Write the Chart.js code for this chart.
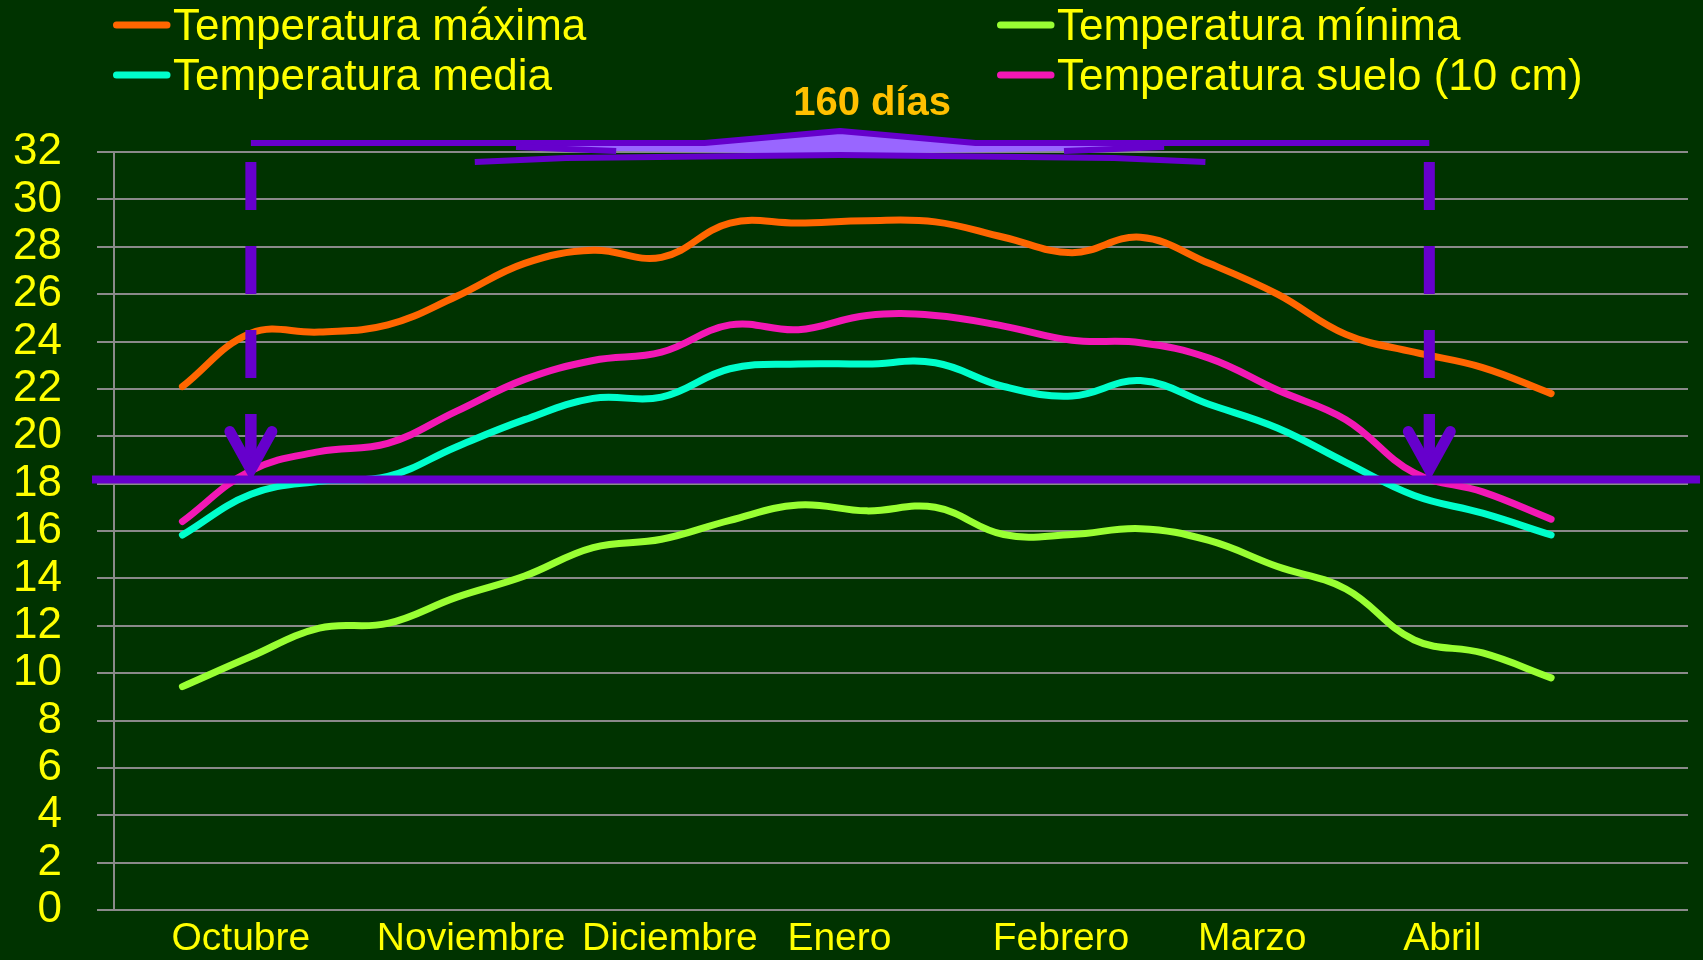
<!DOCTYPE html>
<html>
<head>
<meta charset="utf-8">
<script src="https://cdn.jsdelivr.net/npm/chart.js@4.4.0/dist/chart.umd.min.js"></script>
<style>
  html, body { margin: 0; padding: 0; background: #003300; }
  #wrap { width: 1703px; height: 960px; position: relative; }
</style>
</head>
<body>
<div id="wrap"><canvas id="temps"></canvas></div>
<script>
// one value every 10 days, from 1st decade of October to last decade of April
const decades = [0, 1, 2, 3, 4, 5, 6, 7, 8, 9, 10, 11, 12, 13, 14, 15, 16, 17, 18, 19, 20]
const months = ['Octubre', 'Noviembre', 'Diciembre', 'Enero', 'Febrero', 'Marzo', 'Abril']
const monthStart = [0, 3, 6, 9, 12, 15, 18]

const tMax = [22.1, 24.35, 24.4, 24.7, 25.9, 27.3, 27.85, 27.55, 29.0, 29.0, 29.1, 29.05, 28.4, 27.75, 28.4, 27.3, 26.0, 24.3, 23.55, 22.9, 21.8]
const tMin = [9.43, 10.7, 11.9, 12.1, 13.2, 14.1, 15.3, 15.65, 16.45, 17.1, 16.85, 17.0, 15.85, 15.85, 16.1, 15.6, 14.5, 13.55, 11.4, 10.85, 9.8]
const tMed = [15.83, 17.55, 18.1, 18.3, 19.55, 20.7, 21.6, 21.65, 22.85, 23.05, 23.05, 23.1, 22.1, 21.7, 22.35, 21.35, 20.35, 18.9, 17.5, 16.75, 15.83]
const tSuelo = [16.4, 18.55, 19.35, 19.7, 21.05, 22.4, 23.2, 23.55, 24.7, 24.5, 25.1, 25.1, 24.65, 24.05, 23.95, 23.3, 21.95, 20.7, 18.45, 17.65, 16.5]

// 18 ºC threshold and the period above it
const threshold = 18.17
const periodFrom = 1
const periodTo = 18.22
const periodLabel = '160 días'

const FONT = "'Liberation Sans', Arial, sans-serif"
const YELLOW = '#FFFF00'
const PURPLE = '#6600CC'

const toPoints = (vals) => decades.map((d, i) => ({ x: d, y: vals[i] }))

// legend in two columns, like the original slide
const legendPlugin = {
    id: 'twoColLegend',
    afterDraw(chart) {
        const ctx = chart.ctx
        const cols = [113, 997]
        const rows = [25, 75]
        ctx.save()
        chart.data.datasets.forEach((ds, i) => {
            const lx = cols[i % 2]
            const ly = rows[Math.floor(i / 2)]
            ctx.strokeStyle = ds.borderColor
            ctx.lineWidth = 7
            ctx.lineCap = 'round'
            ctx.beginPath()
            ctx.moveTo(lx + 3.5, ly)
            ctx.lineTo(lx + 54, ly)
            ctx.stroke()
            ctx.fillStyle = YELLOW
            ctx.font = '44px ' + FONT
            ctx.textBaseline = 'middle'
            ctx.textAlign = 'left'
            ctx.fillText(ds.label, lx + 60, ly + 3)
        })
        ctx.restore()
    }
}

const periodPlugin = {
    id: 'period',
    afterDraw(chart) {
        const { ctx, scales: { x, y } } = chart
        const lineY = y.getPixelForValue(threshold)
        const top = y.getPixelForValue(32)
        ctx.save()

        // threshold line
        ctx.strokeStyle = PURPLE
        ctx.lineWidth = 8
        ctx.beginPath()
        ctx.moveTo(x.left - 22, lineY)
        ctx.lineTo(chart.width - 3, lineY)
        ctx.stroke()

        // dashed arrows
        const tip = lineY - 12
        ;[periodFrom, periodTo].forEach(v => {
            const ax = x.getPixelForValue(v)
            ctx.lineWidth = 11
            ctx.lineCap = 'butt'
            ctx.setLineDash([48, 36])
            ctx.beginPath()
            ctx.moveTo(ax, top + 10)
            ctx.lineTo(ax, tip)
            ctx.stroke()
            ctx.setLineDash([])
            ctx.beginPath()
            ctx.moveTo(ax, top + 262)
            ctx.lineTo(ax, tip)
            ctx.stroke()
            ctx.lineCap = 'round'
            ctx.lineJoin = 'miter'
            ctx.beginPath()
            ctx.moveTo(ax - 21, tip - 36)
            ctx.lineTo(ax, tip + 2)
            ctx.lineTo(ax + 21, tip - 36)
            ctx.stroke()
        })

        // flat brace over the period
        const L = x.getPixelForValue(periodFrom)
        const R = x.getPixelForValue(periodTo)
        const C = (L + R) / 2
        const h = (R - L) / 2
        ctx.fillStyle = '#9966FF'
        ctx.beginPath()
        ctx.moveTo(C - 0.53 * h, top - 8)
        ctx.lineTo(C - 0.23 * h, top - 8)
        ctx.lineTo(C, top - 19)
        ctx.lineTo(C + 0.23 * h, top - 8)
        ctx.lineTo(C + 0.53 * h, top - 8)
        ctx.lineTo(C + 0.38 * h, top - 1)
        ctx.lineTo(C, top + 2)
        ctx.lineTo(C - 0.38 * h, top - 1)
        ctx.closePath()
        ctx.fill()

        ctx.strokeStyle = PURPLE
        ctx.lineWidth = 6
        ctx.lineCap = 'butt'
        ctx.lineJoin = 'round'
        ctx.beginPath()
        ctx.moveTo(L, top - 9)
        ctx.lineTo(C - 0.23 * h, top - 9)
        ctx.lineTo(C, top - 21)
        ctx.lineTo(C + 0.23 * h, top - 9)
        ctx.lineTo(R, top - 9)
        ctx.stroke()
        ctx.beginPath()
        ctx.moveTo(C - 0.62 * h, top + 10)
        ctx.lineTo(C - 0.465 * h, top + 6)
        ctx.lineTo(C, top + 3)
        ctx.lineTo(C + 0.465 * h, top + 6)
        ctx.lineTo(C + 0.62 * h, top + 10)
        ctx.stroke()
        ctx.beginPath()
        ctx.moveTo(C - 0.55 * h, top - 5)
        ctx.lineTo(C - 0.38 * h, top - 1)
        ctx.moveTo(C + 0.55 * h, top - 5)
        ctx.lineTo(C + 0.38 * h, top - 1)
        ctx.stroke()

        ctx.fillStyle = '#FFC000'
        ctx.font = 'bold 40px ' + FONT
        ctx.textAlign = 'center'
        ctx.textBaseline = 'middle'
        ctx.fillText(periodLabel, C + 32, top - 48)
        ctx.restore()
    }
}

const lineStyle = { borderWidth: 7, tension: 0.4, borderCapStyle: 'round', borderJoinStyle: 'round', pointRadius: 0, fill: false }

new Chart(document.getElementById('temps'), {
    type: 'line',
    data: {
        datasets: [
            { label: 'Temperatura máxima', data: toPoints(tMax), borderColor: '#FF6600', ...lineStyle },
            { label: 'Temperatura mínima', data: toPoints(tMin), borderColor: '#99FF33', ...lineStyle },
            { label: 'Temperatura media', data: toPoints(tMed), borderColor: '#00FFCC', ...lineStyle },
            { label: 'Temperatura suelo (10 cm)', data: toPoints(tSuelo), borderColor: '#F218B5', ...lineStyle }
        ]
    },
    options: {
        responsive: true,
        maintainAspectRatio: false,
        animation: false,
        layout: { padding: { top: 152, left: 13, right: 15, bottom: 0 } },
        plugins: { legend: { display: false }, tooltip: { enabled: false } },
        scales: {
            x: {
                type: 'linear',
                min: -1,
                max: 22,
                grid: { display: false, drawTicks: false },
                border: { display: false },
                afterBuildTicks: axis => { axis.ticks = monthStart.map(v => ({ value: v - 0.16 })) },
                afterFit: axis => { axis.height = 50 },
                ticks: {
                    autoSkip: false,
                    maxRotation: 0,
                    align: 'start',
                    padding: 10,
                    color: YELLOW,
                    font: { family: FONT, size: 39, lineHeight: 1 },
                    callback: v => months[Math.round(v / 3)]
                }
            },
            y: {
                min: 0,
                max: 32,
                // tick padding would otherwise push the plot bottom up
                afterFit: axis => { axis.width = 101; axis.paddingTop = 0; axis.paddingBottom = 0 },
                ticks: { stepSize: 2, autoSkip: false, padding: 35, color: YELLOW, font: { family: FONT, size: 44 } },
                grid: { color: '#8a8a8a', lineWidth: 2, tickLength: 17 },
                border: { color: '#8a8a8a', width: 2 }
            }
        }
    },
    plugins: [legendPlugin, periodPlugin]
})
</script>
</body>
</html>
